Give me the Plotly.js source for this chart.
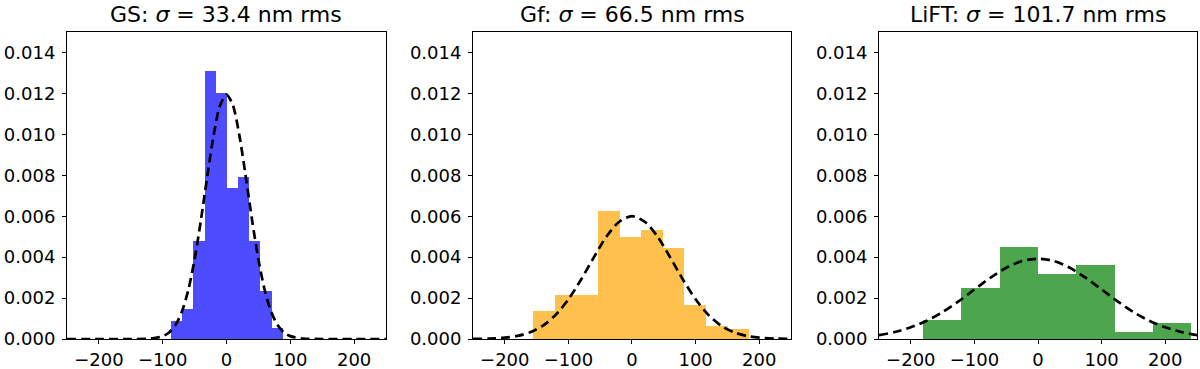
<!DOCTYPE html>
<html>
<head>
<meta charset="utf-8">
<script src="https://cdn.plot.ly/plotly-3.0.1.min.js"></script>
<style>
  body { margin: 0; background: #fff; }
  #plot { width: 1200px; height: 369px; }
</style>
</head>
<body>
<div id="plot"></div>
<script>
// histogram bins (left edges), bin widths and densities
const gsEdges = [-86.8, -69.3, -51.8, -34.3, -16.8, 0.7, 18.2, 35.7, 53.2, 70.7];
const gsWidth = 17.5;
const gsHeights = [0.00086, 0.00148, 0.00481, 0.01309, 0.01200, 0.00740, 0.00793, 0.00478, 0.00236, 0.00055];

const gfEdges = [-155.5, -121.5, -87.5, -53.5, -19.5, 14.5, 48.5, 82.5, 116.5, 150.5];
const gfWidth = 34;
const gfHeights = [0.00136, 0.00217, 0.00217, 0.00627, 0.00498, 0.00534, 0.00445, 0.00168, 0.00063, 0.00050];

const liftEdges = [-180.8, -120.5, -60.3, 0, 60.3, 120.5, 180.8];
const liftWidth = 60.3;
const liftHeights = [0.00094, 0.00249, 0.00449, 0.00320, 0.00362, 0.00034, 0.00080];

// dashed gaussian curves
const gsFitX = [-250, -200, -150, -120, -100, -90, -80, -70, -60, -50, -40, -30, -20, -10, 0,
                10, 20, 30, 40, 50, 60, 70, 80, 90, 100, 120, 150, 200, 250];
const gsFitY = [0, 0, 0, 0.00002, 0.00014, 0.00032, 0.00068, 0.00133, 0.00238, 0.00389, 0.00583, 0.00798, 0.00998, 0.01142, 0.01194,
                0.01142, 0.00998, 0.00798, 0.00583, 0.00389, 0.00238, 0.00133, 0.00068, 0.00032, 0.00014, 0.00002, 0, 0, 0];

const gfFitX = [-250, -225, -200, -180, -160, -140, -120, -100, -80, -60, -40, -20, 0,
                20, 40, 60, 80, 100, 120, 140, 160, 180, 200, 225, 250];
const gfFitY = [0.000005, 0.00002, 0.000065, 0.00015, 0.00033, 0.00065, 0.00118, 0.00194, 0.00291, 0.00399, 0.00501, 0.00573, 0.00600,
                0.00573, 0.00501, 0.00399, 0.00291, 0.00194, 0.00118, 0.00065, 0.00033, 0.00015, 0.000065, 0.00002, 0.000005];

const liftFitX = [-250, -225, -200, -175, -150, -125, -100, -75, -50, -25, 0,
                  25, 50, 75, 100, 125, 150, 175, 200, 225, 250];
const liftFitY = [0.00019, 0.00034, 0.00057, 0.00089, 0.00132, 0.00184, 0.00242, 0.00299, 0.00348, 0.00381, 0.00392,
                  0.00381, 0.00348, 0.00299, 0.00242, 0.00184, 0.00132, 0.00089, 0.00057, 0.00034, 0.00019];

const titles = ['GS: <i>σ</i> = 33.4 nm rms', 'Gf: <i>σ</i> = 66.5 nm rms', 'LiFT: <i>σ</i> = 101.7 nm rms'];
const barColors = ['rgb(77,77,255)', 'rgb(255,192,77)', 'rgb(77,166,77)'];
const xTicks = [-200, -100, 0, 100, 200];

const panels = [
    { edges: gsEdges, width: gsWidth, heights: gsHeights, fx: gsFitX, fy: gsFitY },
    { edges: gfEdges, width: gfWidth, heights: gfHeights, fx: gfFitX, fy: gfFitY },
    { edges: liftEdges, width: liftWidth, heights: liftHeights, fx: liftFitX, fy: liftFitY }
];
const domains = [[0, 0.2823], [0.3593, 0.6407], [0.7186, 1]];

let traces = [];
let layout = {
    width: 1200,
    height: 369,
    margin: { l: 67, r: 3, t: 32, b: 30 },
    paper_bgcolor: '#fff',
    plot_bgcolor: '#fff',
    showlegend: false,
    bargap: 0,
    barmode: 'overlay',
    font: { family: 'DejaVu Sans', size: 18, color: '#000' },
    annotations: []
};

panels.forEach((p, i) => {
    const n = i === 0 ? '' : String(i + 1);
    traces.push({
        type: 'bar',
        x: p.edges.map(e => e + p.width / 2),
        y: p.heights,
        width: p.edges.map(() => p.width),
        marker: { color: barColors[i], line: { width: 0 } },
        xaxis: 'x' + n,
        yaxis: 'y' + n,
        hoverinfo: 'skip'
    });
    traces.push({
        type: 'scatter',
        mode: 'lines',
        x: p.fx,
        y: p.fy,
        line: { color: '#000', width: 2.7, dash: '9px,5px', shape: 'spline', smoothing: 0.8 },
        xaxis: 'x' + n,
        yaxis: 'y' + n
    });
    layout['xaxis' + n] = {
        domain: domains[i],
        anchor: 'y' + n,
        range: [-250, 250],
        tickvals: xTicks,
        ticks: 'outside',
        ticklen: 4,
        tickcolor: '#000',
        showline: true,
        linecolor: '#000',
        linewidth: 1,
        mirror: true,
        showgrid: false,
        zeroline: false,
        tickfont: { size: 18 }
    };
    layout['yaxis' + n] = {
        anchor: 'x' + n,
        range: [0, 0.015],
        dtick: 0.002,
        tick0: 0,
        tickformat: '.3f',
        ticks: 'outside',
        ticklen: 4,
        tickcolor: '#000',
        ticklabelstandoff: 3,
        showline: true,
        linecolor: '#000',
        linewidth: 1,
        mirror: true,
        showgrid: false,
        zeroline: false,
        tickfont: { size: 18 }
    };
    layout.annotations.push({
        text: titles[i],
        xref: 'x' + n + ' domain',
        yref: 'y' + n + ' domain',
        x: 0.5,
        y: 1,
        xanchor: 'center',
        yanchor: 'bottom',
        yshift: 3,
        showarrow: false,
        font: { size: 22, color: '#000' }
    });
});

Plotly.newPlot('plot', traces, layout, { displayModeBar: false, staticPlot: true });
</script>
</body>
</html>
